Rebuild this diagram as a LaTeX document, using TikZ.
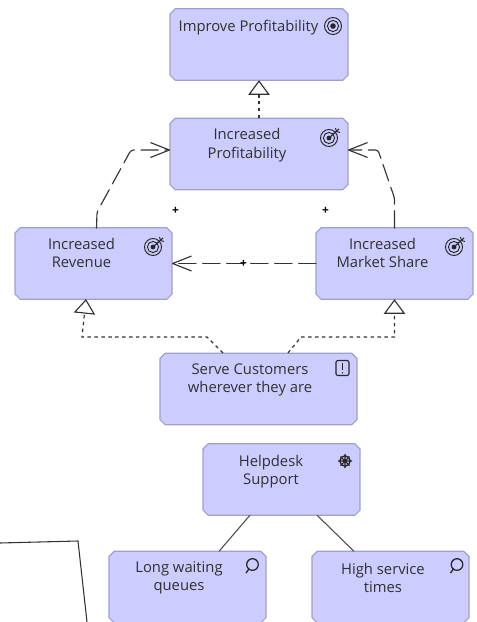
\documentclass[tikz,border=0pt]{standalone}
\usepackage{fontspec}
\setmainfont{Open Sans}
\usetikzlibrary{arrows.meta,calc}
\definecolor{boxfill}{HTML}{CCCCFF}
\definecolor{boxline}{HTML}{A0A0CC}
\definecolor{ink}{HTML}{303030}
\tikzset{
  x=0.75pt,y=-0.75pt,
  elem/.style={rectangle,inner sep=0pt,outer sep=0pt,
    append after command={\pgfextra{\let\boxname\tikzlastnode
      \draw[draw=boxline,fill=boxfill,line width=0.9pt,line join=round]
        ([xshift=3.8pt]\boxname.north west) -- ([xshift=-3.8pt]\boxname.north east)
        -- ([yshift=-3.8pt]\boxname.north east) -- ([yshift=3.8pt]\boxname.south east)
        -- ([xshift=-3.8pt]\boxname.south east) -- ([xshift=3.8pt]\boxname.south west)
        -- ([yshift=3.8pt]\boxname.south west) -- ([yshift=-3.8pt]\boxname.north west) -- cycle;}}},
  w157/.style={minimum width=117.75pt,minimum height=53.5pt},
  w178/.style={minimum width=133.5pt,minimum height=53.5pt},
  w197/.style={minimum width=147.75pt,minimum height=53.5pt},
  lbl/.style={align=center,text=ink,font=\fontsize{11.1}{13.9}\selectfont,inner sep=0pt},
  trig/.style={draw=black!80,line width=0.85pt,line cap=round,
    dash pattern=on 13pt off 5pt,-{Straight Barb[length=14pt,width=11pt,line width=0.85pt,round]}},
  real/.style={draw=black!80,line width=0.9pt,dash pattern=on 2.6pt off 2.6pt,
    -{Triangle[open,length=11pt,width=16pt,line width=0.85pt,fill=white]}},
  assoc/.style={draw=black!70,line width=0.8pt},
  plusmark/.style={font=\fontsize{9}{9}\selectfont\bfseries,inner sep=0pt},
  icon/.style={draw=black!85,line width=0.7pt,fill=none},
  pics/goalicon/.style={code={
    \draw[icon] (0,0) circle[radius=8.5];
    \draw[icon] (0,0) circle[radius=5.6];
    \fill[black!85] (0,0) circle[radius=2.8];}},
  pics/outcomeicon/.style={code={
    \draw[icon] (0,0) circle[radius=8.5];
    \draw[icon] (0,0) circle[radius=5.6];
    \fill[black!85] (0,0) circle[radius=2.4];
    \draw[icon,line width=0.85pt] (0,0) -- (10,-9);
    \draw[icon] (6.5,-10) -- (7.5,-6.5) -- (11,-5.5);}},
  pics/reqicon/.style={code={
    \draw[icon,rounded corners=1.5pt,line width=0.85pt] (-6.5,-7.5) rectangle (6.5,7.5);
    \draw[black!85,line width=1pt] (0,-5) -- (0,2);
    \fill[black!85] (0,4.8) circle[radius=0.8];}},
  pics/wheelicon/.style={code={
    \draw[icon,line width=1pt] (0,0) circle[radius=5.2];
    \draw[icon,line width=0.8pt] (-7,0) -- (7,0) (0,-7) -- (0,7) (-4.5,-4.5) -- (4.5,4.5) (-4.5,4.5) -- (4.5,-4.5);
    \fill[black!85] (0,0) circle[radius=1.8];}},
  pics/lensicon/.style={code={
    \draw[icon,line width=0.95pt] (0.5,-1.5) circle[radius=5.8];
    \draw[icon,line width=1pt] (-3,2.8) -- (-6,7);}},
}
\begin{document}
\begin{tikzpicture}
\useasboundingbox (0,0) rectangle (476,622);
% elements
\node[elem,w178] (improve) at (259,44.5) {};
\node[elem,w178] (prof) at (259,154) {};
\node[elem,w157] (rev) at (93.5,263.5) {};
\node[elem,w157] (share) at (394.5,263.5) {};
\node[elem,w197] (serve) at (258.5,389) {};
\node[elem,w157] (help) at (281.5,479.5) {};
\node[elem,w157] (longq) at (187.5,587) {};
\node[elem,w157] (hightime) at (390.5,587) {};
% labels
\node[lbl] (t1) at (248.5,27.5) {Improve Profitability};
\node[lbl] (t2) at (247,145) {Increased\\Profitability};
\node[lbl] (t3) at (81.5,253) {Increased\\Revenue};
\node[lbl] (t4) at (382.5,253) {Increased\\Market Share};
\node[lbl] (t5) at (250,380) {Serve Customers\\wherever they are};
\node[lbl] (t6) at (271,471.5) {Helpdesk\\Support};
\node[lbl] (t7) at (179,578) {Long waiting\\queues};
\node[lbl] (t8) at (383,578) {High service\\times};
% icons
\pic at (333,26) {goalicon};
\pic at (329,138) {outcomeicon};
\pic at (153,247) {outcomeicon};
\pic at (454,247) {outcomeicon};
\pic at (342.5,368) {reqicon};
\pic at (345,461) {wheelicon};
\pic at (252,566) {lensicon};
\pic at (456.5,566) {lensicon};
% named free points on the routes
\coordinate (a1) at (96.5,228);
\coordinate (a2) at (97,212);
\coordinate (a3) at (131,150);
\coordinate (b1) at (394.5,228);
\coordinate (b2) at (394.5,198);
\coordinate (b3) at (378,150);
\coordinate (c1) at (82,337);
\coordinate (c2) at (207,337);
\coordinate (c3) at (223,353);
\coordinate (d1) at (288,353);
\coordinate (d2) at (301,337);
\coordinate (d3) at (394.5,337);
% connectors
\draw[real] (prof.north) -- (improve.south);
\draw[trig,rounded corners=2pt] (a1) -- (a2) -- (a3) -- (prof.west |- a3);
\draw[trig,rounded corners=2pt] (b1) -- (b2) -- (b3) -- (prof.east |- b3);
\draw[trig] (share.west) -- (rev.east);
\draw[real] (c3) -- (c2) -- (c1) -- (86,299);
\draw[real] (d1) -- (d2) -- (d3) -- (share.south);
\draw[assoc] (help.south -| 250,0) -- (longq.north -| 219,0);
\draw[assoc] (help.south -| 317,0) -- (hightime.north -| 354,0);
% plus marks
\node[plusmark] (p1) at (175.5,211) {+};
\node[plusmark] (p2) at (325.5,211) {+};
\node[plusmark] (p3) at (243.5,264) {+};
% open outline at lower left
\draw[black!80,line width=0.8pt] (0,543) -- (78,541) -- (87,622);
\end{tikzpicture}
\end{document}
